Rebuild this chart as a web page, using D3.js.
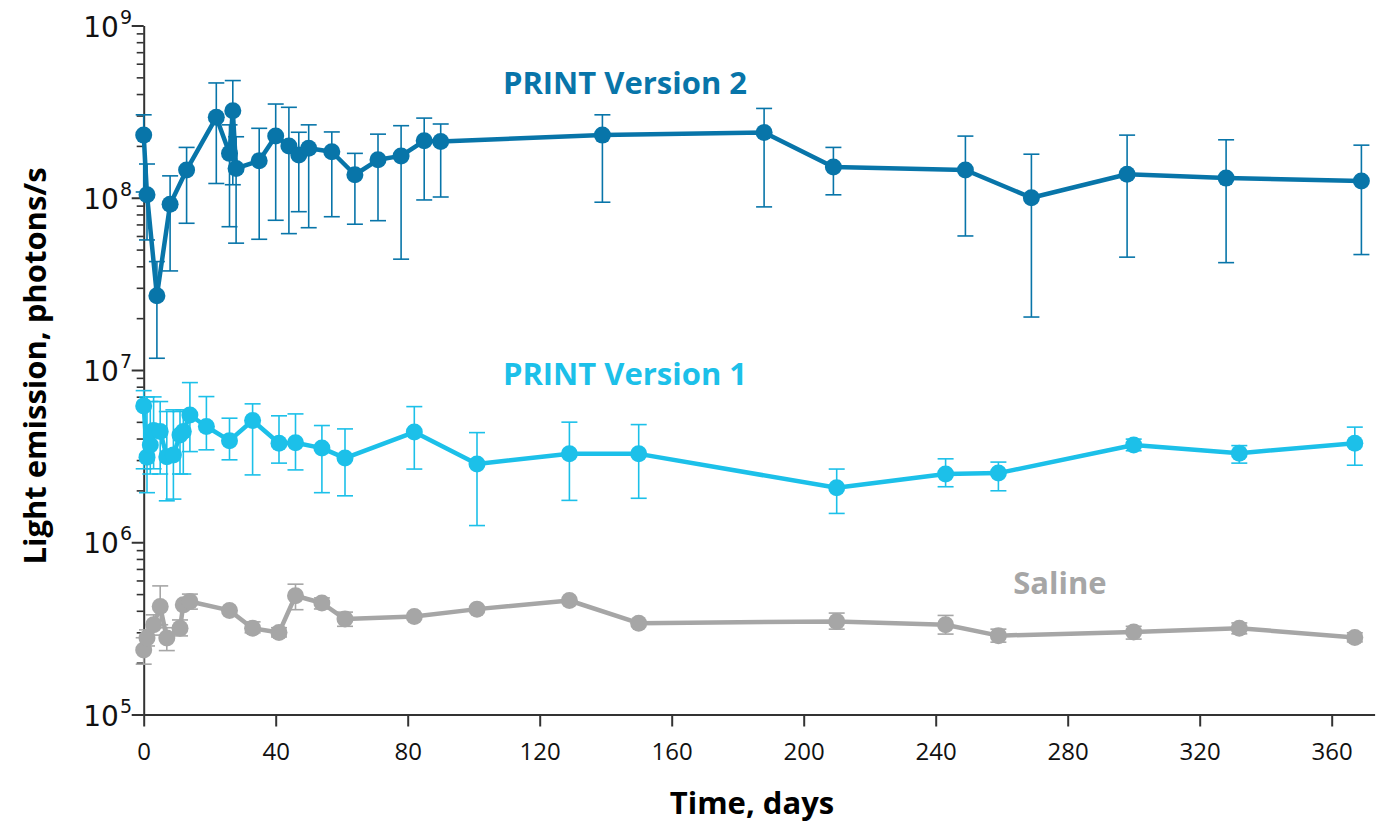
<!DOCTYPE html>
<html>
<head>
<meta charset="utf-8">
<script src="https://cdn.jsdelivr.net/npm/d3@7"></script>
<style>
  body { margin: 0; background: #fff; }
  svg { display: block; }
</style>
</head>
<body>
<svg width="1394" height="826"></svg>
<script>
// values
var xTicks = [0, 40, 80, 120, 160, 200, 240, 280, 320, 360];
var yTicks = [1e5, 1e6, 1e7, 1e8, 1e9];

var v2Days = [0, 1, 4, 8, 13, 22, 26, 27, 28, 35, 40, 44, 47, 50, 57, 64, 71, 78, 85, 90, 139, 188, 209, 249, 269, 298, 328, 369];
var v2Mean = [2.31e8, 1.04e8, 2.70e7, 9.16e7, 1.45e8, 2.93e8, 1.81e8, 3.20e8, 1.48e8, 1.64e8, 2.28e8, 2.00e8, 1.77e8, 1.94e8, 1.85e8, 1.36e8, 1.66e8, 1.75e8, 2.14e8, 2.12e8, 2.31e8, 2.39e8, 1.51e8, 1.45e8, 1.00e8, 1.37e8, 1.30e8, 1.25e8];
var v2Hi = [3.03e8, 1.57e8, 4.26e7, 1.34e8, 1.96e8, 4.64e8, 2.65e8, 4.79e8, 2.26e8, 2.53e8, 3.50e8, 3.35e8, 2.40e8, 2.65e8, 2.41e8, 1.81e8, 2.34e8, 2.62e8, 2.90e8, 2.68e8, 3.03e8, 3.30e8, 1.96e8, 2.28e8, 1.79e8, 2.31e8, 2.17e8, 2.02e8];
var v2Lo = [1.08e8, 5.69e7, 1.17e7, 3.76e7, 7.11e7, 1.21e8, 6.79e7, 1.19e8, 5.45e7, 5.74e7, 7.40e7, 6.19e7, 8.30e7, 6.70e7, 7.76e7, 7.02e7, 7.36e7, 4.40e7, 9.71e7, 1.01e8, 9.42e7, 8.85e7, 1.04e8, 6.00e7, 2.03e7, 4.52e7, 4.20e7, 4.68e7];

var v1Days = [0, 1, 2, 3, 5, 7, 9, 11, 12, 14, 19, 26, 33, 41, 46, 54, 61, 82, 101, 129, 150, 210, 243, 259, 300, 332, 367];
var v1Mean = [6.19e6, 3.12e6, 3.67e6, 4.45e6, 4.39e6, 3.14e6, 3.21e6, 4.20e6, 4.39e6, 5.48e6, 4.70e6, 3.89e6, 5.09e6, 3.76e6, 3.78e6, 3.52e6, 3.08e6, 4.36e6, 2.85e6, 3.26e6, 3.26e6, 2.07e6, 2.49e6, 2.52e6, 3.67e6, 3.29e6, 3.76e6];
var v1Hi = [7.59e6, 6.98e6, 6.56e6, 6.98e6, 6.56e6, 5.74e6, 5.87e6, 5.74e6, 5.87e6, 8.45e6, 7.01e6, 5.25e6, 6.36e6, 5.42e6, 5.56e6, 4.76e6, 4.55e6, 6.13e6, 4.33e6, 4.98e6, 4.82e6, 2.66e6, 3.05e6, 2.92e6, 3.97e6, 3.64e6, 4.66e6];
var v1Lo = [2.67e6, 1.94e6, 2.49e6, 2.67e6, 2.49e6, 1.74e6, 1.78e6, 2.49e6, 2.49e6, 3.36e6, 3.44e6, 3.01e6, 2.46e6, 2.88e6, 2.63e6, 1.94e6, 1.86e6, 2.66e6, 1.25e6, 1.75e6, 1.80e6, 1.47e6, 2.10e6, 1.99e6, 3.40e6, 2.88e6, 2.80e6];

var salineDays = [0, 1, 3, 5, 7, 11, 12, 14, 26, 33, 41, 46, 54, 61, 82, 101, 129, 150, 210, 243, 259, 300, 332, 367];
var salineMean = [2.37e5, 2.78e5, 3.32e5, 4.24e5, 2.78e5, 3.17e5, 4.33e5, 4.53e5, 4.02e5, 3.17e5, 2.99e5, 4.89e5, 4.44e5, 3.58e5, 3.71e5, 4.09e5, 4.59e5, 3.39e5, 3.47e5, 3.32e5, 2.87e5, 3.01e5, 3.17e5, 2.80e5];
var salineHi = [2.79e5, 3.10e5, 3.79e5, 5.58e5, 3.19e5, 3.54e5, null, 5.00e5, null, 3.45e5, 3.19e5, 5.71e5, 4.75e5, 3.93e5, null, null, null, null, 3.88e5, 3.76e5, 3.13e5, 3.25e5, 3.40e5, 2.98e5];
var salineLo = [1.96e5, 2.50e5, 2.89e5, 3.32e5, 2.35e5, 2.86e5, null, 4.09e5, null, 2.98e5, 2.82e5, 4.06e5, 4.10e5, 3.25e5, null, null, null, null, 3.13e5, 2.93e5, 2.63e5, 2.74e5, 2.94e5, 2.64e5];

var series = [
  { name: 'Saline', color: '#a6a6a6', days: salineDays, mean: salineMean, hi: salineHi, lo: salineLo, lx: 1060, ly: 594 },
  { name: 'PRINT Version 1', color: '#1cc0e9', days: v1Days, mean: v1Mean, hi: v1Hi, lo: v1Lo, lx: 625, ly: 385 },
  { name: 'PRINT Version 2', color: '#0875a9', days: v2Days, mean: v2Mean, hi: v2Hi, lo: v2Lo, lx: 625, ly: 94 }
];

var svg = d3.select('svg');

var x = d3.scaleLinear().domain([0, 373]).range([143.7, 1374.6]);
var y = d3.scaleLog().domain([1e5, 1e9]).range([714.5, 25.5]);

// y axis, major + minor ticks
var minor = [];
yTicks.slice(0, -1).forEach(function (d) {
  for (var k = 2; k < 10; k++) minor.push(d * k);
});

svg.append('g')
  .attr('transform', 'translate(143.7,0)')
  .call(d3.axisLeft(y).tickValues(minor).tickSize(7).tickFormat(''))
  .call(function (g) { g.select('.domain').remove(); })
  .selectAll('line').attr('stroke', '#333').attr('stroke-width', 1.6);

var yAxis = svg.append('g')
  .attr('transform', 'translate(143.7,0)')
  .call(d3.axisLeft(y).tickValues(yTicks).tickSize(12).tickSizeOuter(0).tickFormat(''));
yAxis.select('.domain').attr('stroke', '#333').attr('stroke-width', 2);
yAxis.selectAll('line').attr('stroke', '#333').attr('stroke-width', 2);

var yLab = svg.append('g').selectAll('text')
  .data(yTicks)
  .join('text')
  .attr('x', 132)
  .attr('y', function (d) { return y(d) + 11; })
  .attr('text-anchor', 'end')
  .attr('font-family', 'DejaVu Sans, sans-serif')
  .attr('font-size', 28)
  .attr('fill', '#111');
yLab.append('tspan').text('10');
yLab.append('tspan')
  .attr('dy', -13)
  .attr('dx', 1)
  .attr('font-size', 19)
  .text(function (d) { return Math.round(Math.log10(d)); });

// x axis
var xAxis = svg.append('g')
  .attr('transform', 'translate(0,714.5)')
  .call(d3.axisBottom(x).tickValues(xTicks).tickSize(12).tickSizeOuter(0).tickPadding(16));
xAxis.select('.domain').attr('stroke', '#333').attr('stroke-width', 2);
xAxis.selectAll('line').attr('stroke', '#333').attr('stroke-width', 2);
xAxis.selectAll('text')
  .attr('font-family', 'Open Sans, sans-serif')
  .attr('font-size', 24)
  .attr('fill', '#111');

// axis titles
svg.append('text')
  .text('Time, days')
  .attr('x', 752)
  .attr('y', 814)
  .attr('text-anchor', 'middle')
  .attr('font-family', 'Open Sans, sans-serif')
  .attr('font-weight', 'bold')
  .attr('font-size', 31)
  .attr('fill', '#000');

svg.append('text')
  .text('Light emission, photons/s')
  .attr('transform', 'translate(46,366) rotate(-90)')
  .attr('text-anchor', 'middle')
  .attr('font-family', 'Open Sans, sans-serif')
  .attr('font-weight', 'bold')
  .attr('font-size', 31)
  .attr('fill', '#000');

// series
var line = d3.line()
  .x(function (d) { return x(d.day); })
  .y(function (d) { return y(d.mean); });

series.forEach(function (s) {
  var pts = s.days.map(function (d, i) {
    return { day: d, mean: s.mean[i], hi: s.hi[i], lo: s.lo[i] };
  });
  var bars = pts.filter(function (p) { return p.hi != null; });
  var g = svg.append('g');

  g.selectAll('line.bar')
    .data(bars)
    .join('line')
    .attr('x1', function (p) { return x(p.day); })
    .attr('x2', function (p) { return x(p.day); })
    .attr('y1', function (p) { return y(p.hi); })
    .attr('y2', function (p) { return y(p.lo); })
    .attr('stroke', s.color)
    .attr('stroke-width', 1.6);

  ['hi', 'lo'].forEach(function (k) {
    g.selectAll('line.cap' + k)
      .data(bars)
      .join('line')
      .attr('x1', function (p) { return x(p.day) - 8; })
      .attr('x2', function (p) { return x(p.day) + 8; })
      .attr('y1', function (p) { return y(p[k]); })
      .attr('y2', function (p) { return y(p[k]); })
      .attr('stroke', s.color)
      .attr('stroke-width', 1.6);
  });

  g.append('path')
    .datum(pts)
    .attr('d', line)
    .attr('fill', 'none')
    .attr('stroke', s.color)
    .attr('stroke-width', 4.5)
    .attr('stroke-linejoin', 'round');

  g.selectAll('circle')
    .data(pts)
    .join('circle')
    .attr('cx', function (p) { return x(p.day); })
    .attr('cy', function (p) { return y(p.mean); })
    .attr('r', 8.5)
    .attr('fill', s.color);

  svg.append('text')
    .text(s.name)
    .attr('x', s.lx)
    .attr('y', s.ly)
    .attr('text-anchor', 'middle')
    .attr('font-family', 'Open Sans, sans-serif')
    .attr('font-weight', 'bold')
    .attr('font-size', 31)
    .attr('fill', s.color);
});
</script>
</body>
</html>
